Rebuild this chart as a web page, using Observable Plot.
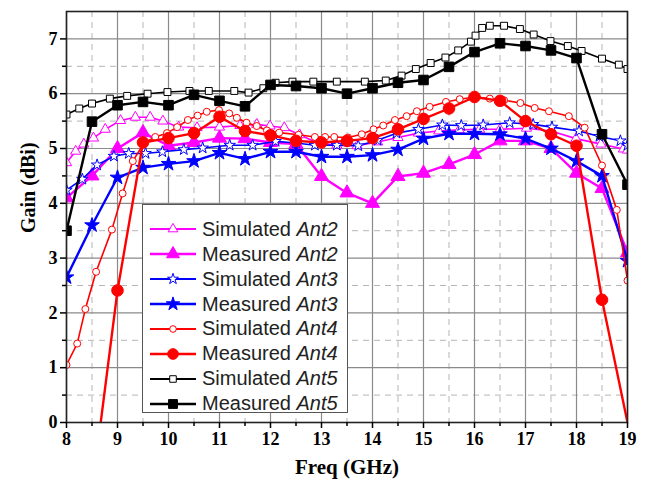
<!DOCTYPE html>
<html><head><meta charset="utf-8">
<script src="https://cdn.jsdelivr.net/npm/d3@7"></script>
<script src="https://cdn.jsdelivr.net/npm/@observablehq/plot@0.6"></script>
<style>
body{margin:0;background:#fff;}
#wrap{position:relative;width:649px;height:482px;}
#legend{position:absolute;left:142px;top:204px;width:206px;height:209px;border:1px solid #555;background:#fff;box-sizing:border-box;font-family:"Liberation Sans",Arial,sans-serif;font-size:20px;color:#222;}
#legend .row{position:absolute;left:0;height:24px;display:flex;align-items:center;}
#legend svg{display:block;}
#legend .lbl{margin-left:5px;white-space:nowrap;}
</style></head><body><div id="wrap"><div id="legend"></div></div>
<script>
// ---------- data ----------
const xMajorTicks = [8,9,10,11,12,13,14,15,16,17,18,19];
const xMinorTicks = [8.5,9.5,10.5,11.5,12.5,13.5,14.5,15.5,16.5,17.5,18.5];
const yMajorTicks = [0,1,2,3,4,5,6,7];
const yMinorTicks = [0.5,1.5,2.5,3.5,4.5,5.5,6.5];

const measFreq = [8,8.5,9,9.5,10,10.5,11,11.5,12,12.5,13,13.5,14,14.5,15,15.5,16,16.5,17,17.5,18,18.5,19];
const measAnt2 = [4.10,4.50,5.00,5.29,5.05,5.11,5.19,5.18,5.11,5.08,4.49,4.19,4.00,4.49,4.55,4.71,4.89,5.14,5.14,5.00,4.55,4.27,3.10];
const measAnt3 = [2.65,3.60,4.47,4.65,4.72,4.77,4.92,4.81,4.94,4.94,4.85,4.85,4.88,4.98,5.18,5.27,5.27,5.26,5.18,5.00,4.77,4.50,2.95];
const measAnt4Freq = [8.5,9,9.5,10,10.5,11,11.5,12,12.5,13,13.5,14,14.5,15,15.5,16,16.5,17,17.5,18,18.5,19];
const measAnt4 = [-1.25,2.41,5.11,5.19,5.28,5.58,5.32,5.24,5.14,5.11,5.14,5.19,5.35,5.54,5.73,5.94,5.87,5.50,5.26,5.05,2.24,0.00];
const measAnt5 = [3.50,5.49,5.79,5.85,5.79,5.98,5.87,5.77,6.16,6.14,6.10,6.00,6.10,6.20,6.25,6.49,6.76,6.92,6.87,6.79,6.65,5.26,4.34];

const simAnt2Freq = [8.0,8.18,8.34,8.53,8.76,9.06,9.35,9.64,9.89,10.2,10.56,11.0,11.4,11.73,11.99,12.27,12.57,12.9,13.3,13.7,14.1,14.5,14.9,15.3,15.7,16.1,16.5,17.02,17.5,17.99,18.48,18.92,19.0];
const simAnt2 =     [4.74,4.95,5.08,5.19,5.35,5.51,5.57,5.57,5.50,5.39,5.38,5.39,5.42,5.44,5.41,5.38,5.25,5.11,5.06,5.05,5.12,5.20,5.28,5.32,5.34,5.35,5.35,5.37,5.32,5.18,5.08,4.99,4.97];
const simAnt3Freq = [8.0,8.31,8.6,8.93,9.22,9.55,9.88,10.3,10.67,11.2,11.65,12.1,12.5,12.87,13.3,13.72,14.1,14.47,14.9,15.37,15.74,16.17,16.69,17.15,17.52,18.05,18.45,18.86,19.0];
const simAnt3 =     [4.24,4.44,4.70,4.86,4.91,4.91,4.94,4.98,5.01,5.06,5.06,5.13,5.10,5.06,5.06,5.05,5.15,5.28,5.35,5.43,5.42,5.43,5.47,5.44,5.39,5.32,5.22,5.14,5.06];
const simAnt4Freq = [8.0,8.21,8.37,8.58,8.89,9.1,9.3,9.52,9.74,9.97,10.17,10.38,10.57,10.75,10.99,11.19,11.34,11.53,11.73,11.93,12.17,12.55,12.87,13.07,13.25,13.52,13.79,14.02,14.21,14.44,14.67,14.87,15.12,15.44,15.71,16.0,16.3,16.58,16.9,17.18,17.46,17.85,18.16,18.5,18.79,19.0];
const simAnt4 =     [1.05,1.44,2.07,2.75,3.52,4.18,4.77,5.10,5.21,5.28,5.39,5.52,5.60,5.67,5.70,5.64,5.56,5.47,5.41,5.33,5.29,5.25,5.21,5.21,5.21,5.20,5.26,5.35,5.42,5.52,5.59,5.68,5.76,5.85,5.90,5.94,5.91,5.88,5.83,5.74,5.68,5.59,5.38,4.69,3.88,2.59];
const simAnt5Freq = [8.0,8.25,8.5,8.85,9.19,9.59,9.98,10.41,10.79,11.29,11.57,11.86,12.1,12.43,12.84,13.3,13.85,14.26,14.57,14.85,15.14,15.43,15.68,15.93,16.02,16.15,16.3,16.58,16.89,17.16,17.49,17.83,18.1,18.5,18.83,19.0];
const simAnt5 =     [5.62,5.73,5.82,5.91,5.96,6.00,6.03,6.05,6.05,6.05,6.02,6.10,6.20,6.22,6.22,6.22,6.22,6.24,6.33,6.45,6.56,6.66,6.79,6.95,7.06,7.20,7.24,7.24,7.18,7.08,6.96,6.87,6.78,6.64,6.53,6.45];

const seriesNames = ["Simulated","Measured","Simulated","Measured","Simulated","Measured","Simulated","Measured"];
const seriesAnts  = ["Ant2","Ant2","Ant3","Ant3","Ant4","Ant4","Ant5","Ant5"];
const seriesColors = ["#ff00ff","#ff00ff","#0000ff","#0000ff","#ff0000","#ff0000","#000000","#000000"];

// ---------- build ----------
const styles = [
  {f: simAnt2Freq, g: simAnt2, symbol:"triangle", r:3.8, open:true},
  {f: measFreq, g: measAnt2, symbol:"triangle", r:5.2, open:false},
  {f: simAnt3Freq, g: simAnt3, symbol:"star", r:3.6, open:true},
  {f: measFreq, g: measAnt3, symbol:"star", r:4.6, open:false},
  {f: simAnt4Freq, g: simAnt4, symbol:"circle", r:3.5, open:true},
  {f: measAnt4Freq, g: measAnt4, symbol:"circle", r:5.8, open:false},
  {f: simAnt5Freq, g: simAnt5, symbol:"square", r:3.9, open:true},
  {f: measFreq, g: measAnt5, symbol:"square", r:5.4, open:false}
];

const marks = [
  Plot.gridX(xMinorTicks, {stroke:"#b5b5b5", strokeOpacity:1, strokeDasharray:"6,5"}),
  Plot.gridY(yMinorTicks, {stroke:"#b5b5b5", strokeOpacity:1, strokeDasharray:"6,5"}),
  Plot.gridX(xMajorTicks, {stroke:"#8a8a8a", strokeOpacity:1, strokeWidth:1.2}),
  Plot.gridY(yMajorTicks, {stroke:"#8a8a8a", strokeOpacity:1, strokeWidth:1.2})
];
styles.forEach((s, i) => {
  const data = s.f.map((f, k) => ({f, g: s.g[k]}));
  const color = seriesColors[i];
  marks.push(Plot.line(data, {x:"f", y:"g", stroke: color, strokeWidth: s.open ? 1.6 : 2.4, clip: true}));
  marks.push(Plot.dot(data.filter(d => d.g > 0), {x:"f", y:"g", symbol: s.symbol, r: s.r,
    fill: s.open ? "#fff" : color, stroke: color, strokeWidth: 1, clip: true}));
});
marks.push(
  Plot.frame({stroke:"#222", strokeWidth:1.6}),
  Plot.axisX(xMajorTicks, {tickSize:6, tickPadding:4, fontSize:18, fontWeight:"bold", label:null, strokeWidth:1.5, tickFormat: d => String(d)}),
  Plot.axisX(xMinorTicks, {tickSize:4, tickFormat: () => "", label:null, strokeWidth:1.5}),
  Plot.axisY(yMajorTicks, {tickSize:6, tickPadding:3, fontSize:18, fontWeight:"bold", label:null, strokeWidth:1.5, tickFormat: d => String(d)}),
  Plot.axisY(yMinorTicks, {tickSize:4, tickFormat: () => "", label:null, strokeWidth:1.5}),
  Plot.text(["Freq (GHz)"], {frameAnchor:"bottom", dy:45, lineAnchor:"middle", fontSize:21, fontWeight:"bold"}),
  Plot.text(["Gain (dBi)"], {frameAnchor:"left", dx:-38, dy:16, rotate:-90, lineAnchor:"middle", fontSize:20, fontWeight:"bold"})
);

const chart = Plot.plot({
  width: 649, height: 482,
  marginLeft: 66, marginRight: 22, marginTop: 11, marginBottom: 60,
  x: {domain: [8, 19]},
  y: {domain: [0, 7.5]},
  style: {fontFamily: "'Liberation Serif', 'Times New Roman', serif", color: "#000", background: "#fff"},
  marks
});
const wrap = document.getElementById("wrap");
wrap.insertBefore(chart, wrap.firstChild);

// ---------- legend ----------
const legend = document.getElementById("legend");
const rowH = 24.9;
styles.forEach((s, i) => {
  const row = document.createElement("div");
  row.className = "row";
  row.style.top = (24.3 + i * rowH - 12) + "px";
  row.style.left = "6px";
  const svg = d3.create("svg").attr("width", 48).attr("height", 24);
  const color = seriesColors[i];
  svg.append("line").attr("x1", 1).attr("x2", 47).attr("y1", 12).attr("y2", 12)
    .attr("stroke", color).attr("stroke-width", s.open ? 2 : 2.4);
  const symMap = {triangle: d3.symbolTriangle, star: d3.symbolStar, circle: d3.symbolCircle, square: d3.symbolSquare};
  svg.append("path").attr("transform", "translate(24,12)")
    .attr("d", d3.symbol(symMap[s.symbol], Math.PI * s.r * s.r * (s.open ? 0.9 : 0.85))())
    .attr("fill", s.open ? "#fff" : color).attr("stroke", color).attr("stroke-width", 1);
  row.appendChild(svg.node());
  const lbl = document.createElement("span");
  lbl.className = "lbl";
  lbl.innerHTML = seriesNames[i] + " <i>" + seriesAnts[i] + "</i>";
  row.appendChild(lbl);
  legend.appendChild(row);
});
</script>
</body></html>
